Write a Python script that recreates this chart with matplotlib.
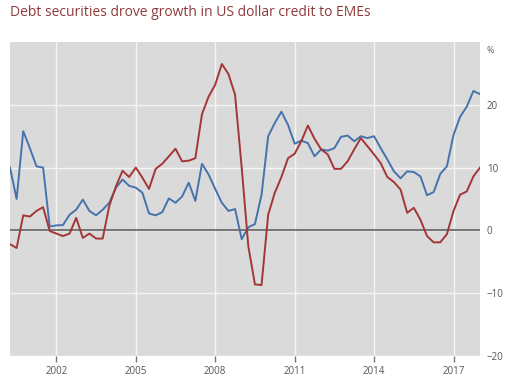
import matplotlib
matplotlib.use("Agg")
import matplotlib.pyplot as plt
import numpy as np

# Quarterly data, 2000Q2 .. 2018Q1 (year fractions)
start_year = 2000.25
n_quarters = 72

debt_securities = [10.0, 5.0, 15.8, 13.1, 10.2, 10.0, 0.6, 0.8, 0.85, 2.5,
                   3.3, 4.9, 3.1, 2.4, 3.3, 4.4, 6.8, 8.1, 7.1, 6.8,
                   6.0, 2.7, 2.4, 2.9, 5.1, 4.4, 5.4, 7.6, 4.7, 10.6,
                   8.9, 6.6, 4.4, 3.1, 3.4, -1.4, 0.5, 1.0, 5.7, 15.0,
                   17.1, 18.9, 16.8, 13.8, 14.3, 13.9, 11.8, 12.9, 12.7, 13.1,
                   14.9, 15.1, 14.2, 15.0, 14.7, 15.0, 13.1, 11.3, 9.4, 8.3,
                   9.4, 9.3, 8.6, 5.6, 6.1, 9.0, 10.2, 15.2, 18.1, 19.7,
                   22.2, 21.7]

bank_loans = [-2.2, -2.8, 2.4, 2.2, 3.1, 3.7, -0.1, -0.5, -0.9, -0.5,
              2.0, -1.2, -0.5, -1.3, -1.3, 3.9, 7.0, 9.5, 8.5, 10.0,
              8.4, 6.6, 9.8, 10.6, 11.8, 13.0, 11.0, 11.1, 11.5, 18.5,
              21.3, 23.2, 26.5, 24.9, 21.6, 10.0, -2.5, -8.6, -8.7, 2.5,
              6.0, 8.5, 11.5, 12.2, 14.2, 16.7, 14.6, 12.9, 12.1, 9.8,
              9.8, 11.0, 12.9, 14.7, 13.4, 12.1, 10.7, 8.5, 7.7, 6.5,
              2.8, 3.6, 1.7, -0.9, -1.9, -1.9, -0.6, 3.1, 5.7, 6.2,
              8.6, 10.0]

x_ticks = [2002, 2005, 2008, 2011, 2014, 2017]
y_ticks = [-20, -10, 0, 10, 20]
title = "Debt securities drove growth in US dollar credit to EMEs"

dates = start_year + 0.25 * np.arange(n_quarters)

plt.rcParams['font.family'] = ['Open Sans', 'DejaVu Sans']

fig = plt.figure(figsize=(5.09, 3.86), dpi=100)
W, H = 509, 386
ax = fig.add_axes([10 / W, 1 - 356 / H, 470 / W, (356 - 42) / H])
ax.set_facecolor('#dadada')

ax.plot(dates, debt_securities, color='#4672ad', lw=1.4, zorder=3)
ax.plot(dates, bank_loans, color='#a33636', lw=1.4, zorder=3)
ax.axhline(0, color='#555555', lw=1.1, zorder=2)

ax.set_xlim(dates[0], dates[-1])
ax.set_ylim(-20, 30)
ax.set_xticks(x_ticks)
ax.set_xticklabels([str(t) for t in x_ticks])
ax.set_yticks(y_ticks)
ax.set_yticklabels([str(t) if t >= 0 else "\u2212" + str(-t) for t in y_ticks])
ax.yaxis.tick_right()
ax.grid(True, color='#f4f4f4', lw=1.0, zorder=1)
ax.set_axisbelow(True)
for s in ax.spines.values():
    s.set_visible(False)
ax.tick_params(axis='x', length=4, width=1, color='#777777', labelsize=7,
               labelcolor='#555555', pad=3, direction='out')
ax.tick_params(axis='y', length=0, labelsize=7, labelcolor='#555555', pad=5)

ax.annotate("%", xy=(1, 1), xycoords='axes fraction', xytext=(5, -3),
            textcoords='offset points', ha='left', va='top', fontsize=6.5,
            color='#666666')

fig.text(10 / W, 1 - 16 / H, title, ha='left', va='baseline', fontsize=10,
         color='#8e3a3a')

fig.savefig("out.png", dpi=100)
